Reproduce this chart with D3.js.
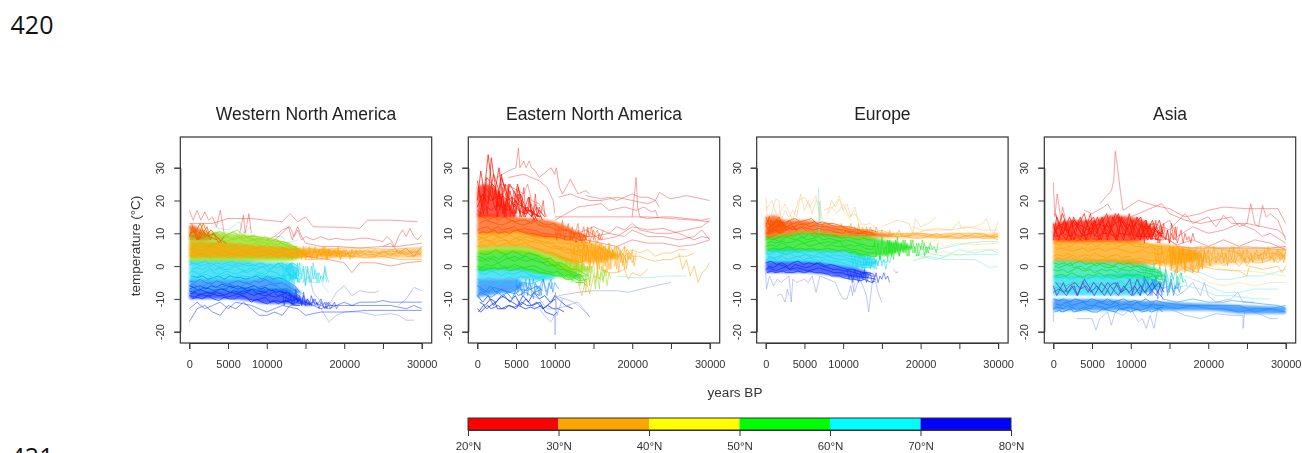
<!DOCTYPE html>
<html><head><meta charset="utf-8">
<script src="https://cdn.jsdelivr.net/npm/d3@7"></script>
<style>
html,body{margin:0;padding:0;background:#fff;overflow:hidden;width:1302px;height:453px}
svg{display:block}
#plots{filter:blur(.4px)}
.soft{filter:blur(1.3px)}
</style></head><body>
<svg id="c" width="1302" height="453"></svg>
<script>
// ---------- shared ----------
const panelTitles=["Western North America","Eastern North America","Europe","Asia"];
const xTicks=[0,5000,10000,15000,20000,25000,30000];
const xLabels=[0,5000,10000,20000,30000];
const yTicks=[-20,-10,0,10,20,30];
const legendBreaks=[20,30,40,50,60,70,80];
const legendColors=["#ff0000","#ffa500","#ffff00","#00ff00","#00ffff","#0000ff"];
const bandColor={red:"#ff1400",redOrange:"#ff5200",orange:"#ffa000",yellow:"#e8d800",lime:"#8edc10",green:"#12e012",teal:"#12e0a8",cyan:"#14d8f0",azure:"#0f80ff",blue:"#0a2cff",purple:"#5a30d8",paleRed:"#f04545",paleBlue:"#7a90f0",paleOrange:"#f8c070",paleCyan:"#70e8d8",paleYellow:"#e8e070"};
const gridA=[0,700,1400,2100,2800,3500,4200,4900,5600,6300,7000,7700,8400,9100,9800,10500,11200,11900,12600,13300,14000];
const gridB=[300,1000,1700,2400,3100,3800,4500,5200,5900,6600,7300,8000,8700,9400,10100,10800,11500,12200,12900,13600,14300];
const gridC=[0,450,1300,1800,2700,3100,4000,4800,5300,6200,6900,7400,8300,8800,9900,10300,11300,11800,12800,13200,14200];
const gridD=[150,800,1200,2300,2600,3600,4100,5000,5700,6400,7100,8100,8500,9600,10000,10900,11400,12300,12700,13700,14100];
const grids=[gridA,gridC,gridB,gridD];
const spikeStep=250; // spike rows below: first number is the start age, then one reading per spikeStep years

// ---------- Western North America ----------
const wnaBlueBand=[[0,-10,-7.5],[2500,-10,-7.5],[5000,-10,-7.5],[7500,-10.5,-7],[10000,-11.5,-7],[12500,-11.5,-7],[14000,-11.5,-9],[15000,-12,-10.5],[16000,-12,-11.5]];
const wnaAzureBand=[[0,-8,-4],[2500,-8,-4],[5000,-8,-4],[7500,-8,-4],[10000,-8,-3.5],[12500,-8,-4.5],[13500,-8,-6],[14500,-8.8,-8.2]];
const wnaCyanBand=[[0,-4.5,1.8],[5000,-4.5,1.8],[10000,-4,1.2],[12500,-5,1],[13500,-4,0.5],[14200,-2,-1]];
const wnaGreenBand=[[0,1.5,10.5],[2500,1.5,10.5],[5000,1.5,10],[7500,1.5,9.5],[10000,1.5,8.5],[12500,1.5,7],[14500,2.5,5],[15500,3.5,4]];
const wnaOrangeBand=[[0,2.5,7.5],[5000,2.5,7],[10000,2.5,6],[15000,2.5,5.5],[18000,3,5],[20000,3.5,4.5]];
const wnaOrangeTail=[[17000,2.5,5.5],[20000,2.5,5],[25000,2.5,5],[30000,2.5,5.5]];
const wnaRedBand=[[0,8,12.5],[1000,8,12],[2000,8,10],[2500,8,9]];
const wnaBlueDense=[
[-9,-9.5,-8.5,-9,-9,-8,-8.5,-9.5,-9,-8.5,-9,-10,-10.5,-10,-9.5,-11,-10.5,-11,-10.5,-11.5,-11],
[-7.5,-8,-7,-7.5,-8.5,-8,-7,-7.5,-8,-8.5,-7.5,-8,-9,-8.5,-8,-9,-9.5,-9,-10,-10.5,-10],
[-10,-9.5,-10,-9,-10,-10.5,-9.5,-10,-10,-9,-9.5,-11,-10,-11,-11.5,-10.5,-11.5,-10.5,-11,-12,-12],
[-8.5,-8,-9,-8,-8,-9,-9,-8.5,-7.5,-8,-8.5,-7,-8,-9,-9,-8,-9,-8.5,-8,-9.5,-11],
[-6,-6.5,-6,-7,-6,-6.5,-5.5,-6,-6.5,-6,-7,-6.5,-6,-7,-6.5,-7.5,-7,-8,-8,-9.5,-10],
[-7,-6.5,-7.5,-6.5,-7,-7.5,-7,-7,-6,-7,-6.5,-7.5,-7,-7.5,-8,-7,-8,-7.5,-9,-9,-10.5]];
const wnaAzureDense=[
[-4.5,-5,-4,-5,-5.5,-4.5,-5,-5.5,-5,-4.5,-5,-5.5,-4.5,-5,-4,-5,-5.5,-5,-6,-7,-8],
[-6,-5.5,-6.5,-6,-5,-6,-6.5,-6,-5.5,-6.5,-6,-5,-6,-6.5,-6,-5.5,-6,-7,-7,-8,-9],
[-3,-3.5,-3,-4,-3.5,-3,-4,-3,-3.5,-3.5,-4,-3.5,-3,-4,-3,-4,-3.5,-4,-5,-6,-8],
[-7,-7.5,-7,-6.5,-7,-7.5,-7,-6.5,-7,-7,-6.5,-7,-7.5,-7,-7.5,-7,-7.5,-7,-8,-8.5,-9]];
const wnaCyanDense=[
[0.5,1,0,0.5,1,0,-0.5,0.5,0,1,0.5,0,0.5,-0.5,0,0.5,-0.5,0,-1,0,-1],
[-2,-1.5,-2.5,-2,-1,-2,-2.5,-1.5,-2,-2.5,-1.5,-2,-1,-2,-2.5,-1.5,-2,-3,-2.5,-3,-4],
[-1,-0.5,-1,0,-1.5,-0.5,-1,-1,0,-1,-1.5,-0.5,-1,0,-1.5,-0.5,1,-1,-2,-4,-2],
[-3,-3.5,-3,-2.5,-3,-4,-3,-2.5,-3.5,-3,-3,-3.5,-2.5,-3,-3.5,-3,-4,-3,-5,-2,-5],
[1.5,0.5,1,1.5,0,1,0.5,1,1.5,0,0.5,1,0,1,0.5,-1,0.5,1,0,1,0]];
const wnaGreenDense=[
[10,9.5,10.5,9,9.5,10,9,9.5,10.5,9.5,8.5,9,9.5,8,9,8,7.5,7.5,7,6,5.5],
[8,8.5,7.5,8,9,8,8.5,7.5,8,9,8,7.5,8,7.5,7,7,6.5,7,6,5.5,5],
[6,6.5,7,6,6.5,7.5,7,6,6.5,7,6,6.5,7,6,6.5,5.5,6,5.5,5,5.5,4],
[3,2.5,3.5,3,2.5,3,3.5,2.5,3,3.5,3,2.5,3,3.5,2.5,3,2.5,3.5,2.5,3,2.5],
[9,8.5,9.5,8.5,8,9,8.5,9,8,8.5,9.5,8.5,8,8.5,8,7.5,8,7,6.5,6,6],
[11,10,10.5,11,9.5,10,10.5,9.5,10,11,9.5,9,9,9,8.5,8.5,8,7.5,7,6.5,5]];
const wnaOrangeDense=[
[5,5.5,4.5,5,6,5.5,5,4.5,5,5.5,4.5,5,5.5,5,4.5,5,4,4.5,5,4,4.5],
[3.5,3,4,3.5,3,4,3.5,3,4,3.5,3,4,3.5,3,3.5,4,3,3.5,3,4,3],
[7,6.5,7.5,6,7,6.5,6,7,6.5,6,6.5,6,5.5,6,5.5,6,5,5.5,5,5,5.5],
[4,4.5,3.5,4,5,4,4.5,4,3.5,4.5,4,4.5,4,4.5,4,3.5,4.5,4,3.5,2.5,3.5]];
const wnaRedDense=[
[12,10,13,9,11,9,7],[9,12,10,13,8,10,8,7],[13,8,11,9,10,7,9],[10,11,8,12,9,8]];
const wnaCyanSpikes=[
[12000,1,-5,0,-3,1,-6,-1,-4,1,-5,-2,0,-6,-1,-5,0,-4,-1,-5,-2,-4,-5,0,-3,-5],
[12500,-2,0,-4,1,-6,-2,-5,1,-4,-1,-6,0,-3,-5,1,-4,-2,-5,-3,-4,-1,-5]];
const wnaBlueSpikes=[
[12000,-7,-12,-9,-11,-8,-12,-10,-7,-11,-9,-12,-8,-11,-10,-12,-9,-11,-10,-12,-11,-10,-12,-11,-13,-11,-12,-12,-11,-13,-12],
[13000,-9,-11,-12,-8,-11,-10,-12,-9,-12,-10,-11,-12,-10,-12,-11,-13,-11,-12,-13,-11,-12,-13,-12]];
const wnaOrangeSpikes=[
[13000,5,2,4,6,3,5,2,6,3,4,5,2,4,6,3,5,3,4,6,2,5,3,4,5,3,6,2,4,5,3,4,2,5,3,5,4,3],
[14500,3,5,2,4,6,3,4,5,2,5,3,6,4,2,5,3,4,5,3,5,2,4,3,5,4,3,5]];
const wnaOrangeLong=[
[14000,5,15000,3.5,16000,5,17000,3.5,18000,5,19000,4,20000,3,21000,5,22000,3,23000,4,24000,5,25000,3,26000,4,27000,3,28000,5,29000,4,30000,5],
[14000,3,15000,5,16000,2,17000,4,18000,3,19000,5,20000,4,21000,3,22000,5,23000,3,24000,3,25000,5,26000,3,27000,5,28000,3,29000,3,30000,4],
[15000,4,16000,4,17000,5,18000,4,19000,3,20000,5,21000,2.5,22000,4,23000,5,24000,3,25000,4,26000,5,27000,4,28000,4,29000,5,30000,3],
[15000,5.5,17000,5,20000,5.5,23000,5.5,26000,5,28000,5.5,30000,5.5],
[15000,2,17000,2,19000,3,21000,3,23000,2.5,25000,3,27000,2,29000,2,30000,2],
[20000,4,21000,4,22000,4,23000,3.5,24000,3.5,25000,4.5,26000,3.5,27000,4,28000,3.5,29000,4.5,30000,3.5],
[20000,3.5,21500,4.5,23000,4.5,24500,4,26000,4.5,27500,4.5,29000,3,30000,4.5]];
const wnaRedLines=[
[0,13,1500,13,3000,13,5000,14.5,8000,14.5,12000,13.5,13000,16,14000,13.5,15000,15,16000,12,20000,11.8,22000,11.5,23000,14,26000,14,29500,13.5],
[0,17,500,14,1000,17,1500,14,2000,16.5,2500,14,3000,15,3500,12,4000,17,4500,10],
[6500,10,7000,15.5,7200,10,7700,16,8000,10],
[10000,8,11000,9,12000,11,13000,12,13500,9,14000,11,14500,8,15000,9,16000,8,17000,9,18000,8,19000,8.5,20000,8,21000,8,22000,8.5,23000,8.5,24000,8,25000,7.5,25500,9,26000,8,26500,6,27000,9,27500,11,28000,9,28500,11.5,29000,9,29500,8,30000,9.5],
[11000,8,12000,10,12800,12,13300,8,14000,12,14500,9,15000,7,17000,6,19000,6,22000,5.5,25000,6,27000,6,30000,7],
[15000,3,18000,2,19000,1.5,20000,1,21000,-2,22000,1,24000,1,26000,0,28000,1,30000,1.5],
[25000,6,26000,7,27000,4,28000,5.5,29000,3,30000,6]];
const wnaBlueLines=[
[0,-17,1000,-13,2000,-12,3000,-14,4000,-15,5000,-12,6000,-13,7000,-11,8000,-13,9000,-15,10000,-15,11000,-14,12000,-15,13000,-12],
[0,-13,1000,-11,2000,-13,3000,-12,4000,-11,5000,-13,6000,-11,8000,-12,10000,-14,12000,-12,14000,-13,15000,-15,17000,-14,20000,-14,23000,-13.5,27000,-13.5,30000,-13.5],
[12000,-11,14000,-10,15000,-12,16000,-11,17000,-12,18000,-13,19000,-12,20000,-11,21000,-12,22000,-11,23000,-11,24000,-11,25000,-10.5,26000,-11,27000,-11,28000,-11,29000,-11,30000,-11],
[13000,-12,15000,-11,17000,-13,18000,-12,20000,-12,22000,-12,24000,-12,26000,-12,28000,-13,29000,-12,30000,-13]];
const wnaPaleBlueLines=[
[14500,-5,15500,-3,16000,-8,17000,-11,18000,-12,19000,-8,20000,-6,21000,-9,22000,-7.5,23000,-8,24000,-8,24500,-7.5],
[17000,-13,18000,-17,19000,-15,20000,-14,22000,-14,24000,-15,26000,-14.5,27000,-15,28000,-16.5,29000,-16.5],
[27000,-12,28000,-10,29000,-6.5,30000,-7.5]];
const wnaPaleCyanLines=[
[14500,1,14800,-5,15000,0,15200,-4],[15000,-3,16000,-5,17000,-5,18000,-8],[3000,12,5000,11,6500,13.5,7000,10,8000,12],[11000,9,12000,9,12500,7,14000,8]];

// ---------- Eastern North America ----------
const enaRedBand=[[0,15,24],[1000,15,25],[2000,15,24.5],[3000,15,22],[4000,15,19],[5000,15,16.5]];
const enaRedOrangeBand=[[0,10,16],[2500,10,15.5],[5000,10.5,15],[7500,9,14.5],[10000,8.5,13.5],[12500,8,11],[14000,8,9]];
const enaOrangeBand=[[0,5.5,10.5],[2500,6,10.5],[5000,6,11],[7500,5,10],[10000,3,9],[12500,1,8],[15000,1,7],[17000,2,5],[18500,3,3.5]];
const enaLimeBand=[[0,3.5,6],[5000,4,6.5],[7500,3,5.5],[10000,0,4],[12500,-2,1.5],[14500,-1.5,-0.5]];
const enaGreenBand=[[0,-1.5,4.5],[2500,-1,5],[5000,-1,5],[7500,-2,4],[10000,-3,1.5],[12500,-4,-1.5],[13500,-4,-3]];
const enaCyanBand=[[0,-4,-0.5],[2500,-4,-0.5],[5000,-4,-0.5],[7500,-4.5,-1.5],[10000,-4,-3]];
const enaAzureBand=[[0,-9.5,-4],[2500,-8.5,-4],[5000,-7.5,-4],[6000,-6,-5]];
const enaBlueDense=[
[-9,-11,-9,-12,-10,-9,-11,-9,-12,-10,-12,-11,-13,-12,-13,-13,-14],
[-13,-14,-12,-13,-12,-13,-12,-12.5,-12,-13,-12.5,-13,-12,-14,-15,-14],
[-11,-12,-10,-11,-9,-10,-11,-12,-9,-11,-8,-10,-9,-11,-10],
[-14,-12,-13,-11,-13,-13,-12,-13,-11,-12,-12,-11,-13,-11,-9,-11,-12,-13]];
const enaAzureDense=[
[-6,-7,-8,-6.5,-7,-7.5,-8,-8.5,-7,-7.5,-7,-6,-7.5],
[-9,-8,-9,-9.5,-8,-9,-8,-7.5,-9,-8,-9,-8,-7],
[-7,-8,-6,-8,-7,-8,-10,-6,-8,-6.5,-8,-9]];
const enaCyanDense=[
[-4,-4.5,-3.5,-4,-5,-4,-3.5,-4,-3,-3.5,-3,-4,-3],
[-6,-5.5,-5,-6,-5.5,-5,-6,-5.5,-5,-5,-5.5,-5,-4,-3.5],
[-2,-2.5,-1.5,-2,-3,-2,-2.5,-2,-1.5,-2.5,-3,-3.5,-3]];
const enaGreenDense=[
[2,1.5,2.5,2,1,2,2.5,3,2,1.5,2,1.5,1,1.5,0,0.5,-1,-1.5,-2,-3,-3],
[0,-0.5,0.5,0,1,0,-0.5,0.5,0,-0.5,0,0,-1,-1.5,-2,-1.5,-3,-2.5,-4,-4.5,-4],
[4,3.5,4,5,4,3.5,4.5,4,3,4,3.5,3,2,2.5,1,1,0,-1,-1,-2,-3],
[-1,-1.5,-1,-0.5,-1,-0.5,-1.5,-1,-0.5,-1,-1,-2,-2,-2.5,-3,-3,-4,-4,-5,-5,-6],
[3,2.5,1.5,3,2,3.5,2,1.5,2.5,3,2,2.5,1,0,0.5,-1,-1,-2,-3,-2.5,-5]];
const enaOrangeDense=[
[8,8.5,7.5,8,9,8,7.5,8.5,9,8,7.5,8,7,7.5,6,6,5,5,4,5,3],
[6,6.5,6,7,6,6.5,7,6,6.5,7,6,5.5,5,4,4,3,2.5,2,1.5,1,2],
[10,9.5,10,9,10,9.5,10,10.5,9.5,10,9,9,8.5,8,8,7,7,6.5,6,6.5,6],
[7,7.5,8,7,7.5,8,7,7.5,8,7,7.5,7,6.5,5.5,5.5,5,4,4,3.5,3,4],
[9,8.5,9,10,8.5,9,9.5,8.5,8,9,8.5,8,7.5,7,7,5,6,5,5,4,7]];
const enaRedOrangeDense=[
[16,15,14,15,14,15,14,13.5,14,14,13,14,13,12.5,13,12,11,11,10,10,9],
[11,11.5,12,11,12,11,11.5,12,11,11.5,11,11,10,10,9.5,10,9,9,8.5,8,8],
[13,14,13.5,13,12.5,13,14,13,12.5,13,14,12.5,12,12,11,11,11,10,10,9.5,9],
[10,10.5,10,11,10,10.5,10,11,10.5,10,10,9.5,9,9,9,8.5,8,8,7.5,8,7]];
const enaRedDense=[
[26,18,34,20,30,17,25,22,19,17,15,18,14],
[20,29,16,33,18,27,21,18,24,15,19,16],
[15,24,22,17,28,20,16,25,16,21,14,17,15],
[23,16,27,24,15,25,18,20,15,18,16,15],
[18,22,19,28,23,15,23,16,22,17,17,14],
[17,16,18,17,19,18,17,19,17,16,17,16,15],
[21,22,20,21,22,20,21,19,18,17,16,15]];
const enaRedSpikes=[
[2500,15,23,17,24,16,21,25,15,20,23,16,22,15,19,24,16,18,21,15,17,22,15,18,16,20,15],
[3000,22,16,19,15,24,17,21,15,18,22,16,20,15,18,16,21,15,17,19,15]];
const enaRedOrangeSpikes=[
[10000,13,8,12,9,14,8,11,13,8,12,9,11,13,8,10,12,8,11,9,12,8,10,11,8,9,11],
[12000,11,8,10,7,11,9,7,10,8,12,7,9,11,8,7,10,8,9]];
const enaOrangeSpikes=[
[12000,8,1,6,-1,7,3,0,8,2,6,-2,7,1,5,-1,7,3,-2,6,1,7,-1,5,2,6,-2,4,1,6,-1,3,2,5,0,4],
[13500,0,7,2,6,-1,5,3,7,-2,4,1,6,0,5,-1,4,2,6,-1,3,5,0,3,1,4,2],
[15000,6,2,5,-1,7,1,4,-2,6,2,5,0,3,6,1,4,-1,5,2,4,1,3]];
const enaLimeSpikes=[
[11000,0,-4,2,-3,1,-5,0,-2,2,-5,-1,1,-4,0,-6,-1,1,-5,-2,-7,0,-4,-1,-6,-2,-4],
[13000,-1,-6,0,-4,-8,-2,-5,0,-3,-7,-1,-4,-2,-5,-1,-3]];
const enaAzureSpikes=[
[5000,-4,-8,-5,-9,-6,-4,-9,-5,-7,-4,-8,-6,-9,-5,-4,-7,-9,-6,-4,-8,-5,-6,-7],
[6000,-9,-5,-7,-4,-8,-10,-5,-7,-6,-9,-4,-6,-8,-5,-7,-5]];
const enaOrangeLong=[
[14000,6,15000,3,16000,7,17000,4,18000,6,19000,3,20000,5,21000,4,22000,5,23000,3,24000,4,25000,4,26000,5,27000,5],
[15000,8,16000,5,17000,7,18000,2,19000,6,20000,3,21000,3,22000,2,23000,1.5,24000,2,25000,2,26000,3,27000,3,28000,4],
[16000,-1,17000,-2,18000,-2,19000,-1,19500,-4,20000,-2,21000,-3,22000,-1],
[26000,4,26500,-1,27000,2,27500,-3,28000,0,28500,-5,29000,-2,29500,-1,30000,1],
[13000,-5,13500,-9,14000,-4,14500,-8.5,15000,-3,16000,-4]];
const enaRedLines=[
[2500,27,4000,29,5000,30,5300,36,5500,30,6000,32,6300,30,6700,32,7000,30,7500,29,8000,27,9000,29,9500,30,10000,28,10200,30,10600,24,11000,22,11500,24,12000,26.5,13000,22,14000,23,14500,22],
[14000,21.5,15000,21,16000,20.5,17000,21,18000,20,19000,21,20000,22,21000,21,22000,21,23000,20,23500,22.5,24500,21,25000,20.5,26000,21,27000,21.5,28000,21,29000,20.5,30000,20],
[10500,21,12000,22,13000,21,14500,20,16000,20,18000,21,20000,20,22000,19,23000,20,23500,18],
[20000,15,20500,27,20700,18,21000,15,22000,14.5,24000,15,25000,15,27000,14.5,29000,14,30000,14.5],
[10000,15,12000,15,15000,15,18000,15,20000,15,22000,15,25000,14.5,28000,14,30000,13.5],
[10000,14,13000,18,16000,19,17000,17,19000,18,20500,17,21500,18,22500,16.5,23000,17,23300,15],
[3000,25,4500,24,6000,22,6500,25,7000,20,8000,19,9000,15],
[4000,27,6000,28,8000,26,9000,24,9800,20,10000,16],
[13000,10,15000,12,16000,11,17000,10,18000,12,19000,11,20000,13,21000,11,23000,10,25000,10,27000,11,29000,12,30000,14],
[13000,9,15000,9,17000,10,19000,9,20000,11,22000,9,24000,9,26000,8,28000,9,29000,11,30000,8],
[14000,8,16000,7,18000,6,20000,8,22000,7,24000,7,26000,6,28000,6.5,30000,8],
[14000,11,16000,8,18000,9,20000,12,22000,11,24000,11.5,26000,10,27000,9,28000,8,29000,9,30000,8.5]];
const enaPaleBlueLines=[
[10500,-9,13000,-8,15000,-7.5,18000,-7.5,19500,-8,22000,-6.5,25000,-5],
[7000,-12,8000,-13,9000,-16,9500,-17,10000,-15,10050,-21,10100,-8,10300,-15,11000,-10],
[9000,-12,10000,-9,12500,-11,14000,-14,14500,-15.5,13000,-11,11500,-12],
[7000,-9,8000,-10,9000,-13,10000,-13,12000,-12]];
const enaPaleCyanLines=[[18000,-3,20000,-3.5,22000,-3.5,25000,-3,27000,-3]];

// ---------- Europe ----------
const eurBlueBand=[[0,-2,1.5],[2500,-2,1.5],[5000,-2,1.5],[7500,-2.5,1],[10000,-3.5,0],[12500,-4,-1.2],[13300,-3.2,-2]];
const eurCyanBand=[[0,1.2,5],[2500,1.2,5.5],[5000,1.2,5],[7500,0.8,5],[10000,-0.2,5],[12500,-0.5,3.5],[14500,0.8,1.5]];
const eurGreenBand=[[0,4.5,9],[2500,4.5,9.5],[5000,4.5,10.5],[7500,4.5,10],[10000,4.5,9.5],[12500,3,9.5],[15000,3,8],[17500,4.5,7],[19000,5.5,6]];
const eurOrangeBand=[[0,8.5,14],[2500,9,14],[5000,10,14],[7500,9.5,13],[10000,9,12],[12500,9,11],[15000,9,10],[16500,9.3,9.7]];
const eurOrangeTail=[[14000,8.5,10],[20000,8.5,9.8],[25000,8.5,9.8],[30000,8.5,10]];
const eurRedBand=[[0,9,15],[1000,9.5,15.5],[2000,10,14.5],[2500,11,13]];
const eurBlueDense=[
[1,1.5,0.5,1,0,1,1.5,0.5,1,0.5,1,0,0.5,0,-0.5,-1,-1,-1.5,-2,-2,-2.5],
[-1,-0.5,-1.5,-1,0,-1,-0.5,-1,-1.5,-1,-0.5,-1,-1.5,-2,-2,-2.5,-3,-3,-3.5,-3.5,-4],
[0,-0.5,0.5,0,-1,0.5,0,-0.5,0,1,0,-0.5,-1,-1,-1.5,-1.5,-2,-2.5,-2,-3,-3],
[-2,-1.5,-2,-1.5,-2,-2,-1.5,-2,-1.5,-2,-2,-2.5,-3,-3,-3.5,-4,-4,-4.5,-4,-5,-4.5]];
const eurCyanDense=[
[2,2.5,2,3,2,2.5,3,2,2.5,2,1.5,2,1.5,1.5,1,0.5,0,0,-0.5,-0.5,0],
[4,3.5,4.5,4,3.5,4,4.5,4,3.5,3,4,3.5,3,3.5,3,2.5,2,1.5,1,1,1],
[3,2.5,3,3.5,4,3,3,3.5,2.5,3,2.5,3,2.5,2,2,1.5,1,0.5,0.5,0,2],
[5,4.5,5,4,5,5.5,4,5,4.5,5,4,4.5,4,4.5,3.5,3,3,2.5,2,2.5,2]];
const eurGreenDense=[
[6,6.5,6,7,6,5.5,6.5,7,6,6.5,7,6,6.5,6,6,5.5,5,5,4.5,4,4],
[8,8.5,8,7.5,9,8.5,8,9,8,8.5,9,8,8.5,8,7.5,8,7.5,7,6.5,6,6],
[5,5.5,5,5.5,6,5,5.5,5,5.5,5,5,5.5,5,4.5,5,4,4.5,3.5,3.5,3,3],
[7,7.5,7,7.5,7,7.5,8,7,7.5,8,7,7.5,7,7.5,6,6.5,6,6.5,5.5,5,7],
[9,8,8.5,9,9.5,9,10,8.5,10,9,10,9,9.5,9,8.5,9,8.5,8,8.5,8,8]];
const eurLimeDense=[
[9,9.5,10,9,9.5,10,10.5,11,10,10.5,10,11,9.5,10,9.5,9.5,9,9,9,8.5,8],
[8.5,8,9,9.5,10,9,10,10.5,10,11,10.5,10,10,10,9,9,8.5,9,8,9,8]];
const eurOrangeDense=[
[13,12.5,13.5,13,12,13,13.5,12.5,13,13.5,12.5,13,12.5,12,12,11.5,11,11,10.5,10.5,10],
[10,10.5,11,10,11,11.5,11,12,11.5,11,11.5,11,11,10.5,10,10.5,10,10,10,9.5,9.5],
[14,13.5,14,13,14,14.5,13.5,14,14.5,13,13.5,13,13,12.5,12,12,11.5,11,11,11,10.5],
[12,11.5,12,12.5,12,12,12.5,13,12,12.5,12,12,11.5,11,11,10.5,10.5,10,10.5,10,9.5]];
const eurRedDense=[
[15,12,14,11,12,11,13],[12,15,11,14,11,13,11],[10,13,15,12,14,11,12,11],[14,11,12,13,11,12,11]];
const eurGreenSpikes=[
[14000,8,3,7,2,9,4,6,2,8,3,7,4,9,3,6,8,4,7,3,8,4,6,3,7,5,8,3,6,4,7,5,6,4,7],
[15500,3,8,4,7,2,8,5,3,7,4,8,3,6,5,8,4,7,3,6,5,7,4,6,5]];
const eurCyanSpikes=[
[11000,4,0,3,-1,4,1,-1,3,0,4,-1,2,3,-1,1,3,0,2,-1,2,1,3],
[12500,3,-1,2,0,3,1,-1,2,0,3,1,2,1,2]];
const eurBlueSpikes=[
[10500,-1,-4,-2,-5,-1,-3,-5,-2,-4,-1,-5,-3,-2,-5,-4,-2,-5,-3,-4,-2,-4,-3,-5]];
const eurOrangeSpikes=[
[12500,11,9,12,9,10,11,9,12,10,9,11,9,10,9,11,9,10,9,10,11,9,10,9,10,9,10],
[9000,12,10,9,13,10,12,9,11,13,9,12,10,13,9,12,10,11,9,12,10]];
const eurOrangeLong=[
[14000,10,15000,11,16000,10,17000,10,18000,9,19000,10,20000,9.5,21000,9,22000,10,23000,9,24000,9.5,25000,10,26000,9,27000,10,28000,9.5,29000,9,30000,10],
[15000,9,17000,9,18000,9,19000,8.5,20000,8.5,21000,9,22000,8.5,23000,9,24000,9,25000,8.5,26000,9.5,27000,9,28000,8.5,29000,8.5,30000,9],
[16000,9.5,18000,10,20000,10,22000,9.5,24000,10,26000,10,28000,10,30000,8],
[18000,9,20000,10,22000,9,24000,8.5,26000,8.5,28000,9,30000,9]];
const eurRedLines=[
[0,21,300,12,1000,18,1300,20.5,1700,20,2000,14,2500,17,3000,15,3500,17,4000,15,4500,22,5000,17,5500,20,6000,16,6500,20,7000,19,7300,14],
[0,17,800,20,1500,15,2500,19,3500,14,4200,20,5000,21,5700,18,6500,21.5,7000,15],
[8000,16,8500,20,9000,18,9500,20.5,10000,17,10500,19,11000,15,11500,18,12000,13],
[7500,17,8500,18,9200,16,10000,19,10800,15,11500,16,12500,12.5,13500,13,14500,11],
[15000,12,17000,14,18500,13,19000,10,19300,14.5,20000,12,21000,13,22000,15],
[19000,10,22000,11.5,24000,11,24500,12.5,25000,13.5,25200,11.5,27000,12,28000,13,28500,14.5,29000,11,29500,10,30000,13.5],
[19000,12,20000,11,22000,11,24000,11,26000,12,28000,11,30000,11]];
const eurYellowLines=[
[8000,16,9000,19,9500,21.5,10000,17,11000,14],
[20000,8,21000,7,22000,8,23000,6,25000,7,27000,6.5,30000,7],
[19000,2,21000,3,23000,4.5,25000,3,27000,5,30000,5]];
const eurPaleCyanLines=[
[20000,6,22000,5,24000,6,26000,7,28000,7.5,30000,7.5],
[19000,1.5,21000,3,23000,2,25000,2,27000,2,29000,-0.5,30000,0],
[20000,3,22000,2,24000,3.5,26000,3.5,28000,3.5,30000,3.5],
[19000,3,21000,4,23000,3,25000,5,27000,4,29000,5,30000,4],
[6800,24,6900,10,7000,20,7050,12]];
const eurPaleBlueLines=[
[0,-2,100,-7,500,-3,1000,-6,1500,-4,2000,-5,3000,-3,3300,-11,3500,-4,4000,-5,5000,-4,5500,-5,6000,-3,6500,-8,7000,-3,8000,-4,9000,-5,9500,-8,10000,-10,10500,-10,11000,-6,11200,-9,11500,-5],
[1500,-9,2000,-8.5,2500,-11,2800,-7,3000,-9],
[12000,-3,12700,-7,13000,-9,13300,-14,13700,-6,14000,-3,14500,-8,15000,-11],
[11000,-4,11500,-8,12000,-4],[16500,-1,16800,-2,17000,-2,17000,-1.5]];

// ---------- Asia ----------
const asiBlueBand=[[0,-13.5,-10],[5000,-13.5,-10],[10000,-13.5,-10.5],[15000,-13.5,-11],[20000,-13.5,-11.5],[25000,-14.5,-12],[30000,-14.5,-12.5]];
const asiCyanBand=[[0,-9,-3],[5000,-9,-3],[10000,-9,-2],[12500,-8,-3.5],[14000,-6,-5]];
const asiGreenBand=[[0,-3.5,2],[5000,-3.5,2],[10000,-3.5,2],[12500,-4,0],[14500,-3.5,-2.5]];
const asiOrangeBand=[[0,1.5,8],[2500,1.5,8.5],[5000,1,8.5],[7500,1,8],[10000,0.5,8],[12500,0.5,7],[15000,0.5,6.5],[17000,1,5.5],[19000,2.5,4]];
const asiOrangeTail=[[15000,-1,6],[18000,-1.5,5.5],[20000,0,5.5],[25000,1,5.5],[30000,2,5.5]];
const asiRedBand=[[0,7.5,13],[2500,7.5,14],[5000,7.5,14],[7500,7.5,15.5],[10000,7.5,15],[12000,8,13.5],[13000,9,11]];
const asiBlueDense=[
[-10,-10.5,-10,-11,-10,-10.5,-11,-10,-10.5,-11,-10,-11,-10.5,-10,-11,-10.5,-11,-10,-11,-10.5,-11],
[-13,-12.5,-13,-12,-13,-13.5,-12.5,-13,-12,-12.5,-13,-12.5,-12,-13,-12.5,-13,-13.5,-13,-12,-13,-12.5],
[-11.5,-12,-11,-12,-11.5,-11,-12,-12,-11,-11.5,-12,-11,-12,-11.5,-12,-11,-12,-12,-11.5,-12,-12],
[-14,-13.5,-14,-13,-14,-13.5,-13,-14,-14,-13,-13.5,-14,-13,-13.5,-14,-13,-14,-13.5,-14,-13,-14]];
const asiPurpleDense=[
[-8,-7,-8,-6,-5,-7,-6,-8,-6,-8,-5,-7,-9,-6,-8,-6,-9,-4,-7,-9,-5],
[-6,-9,-5,-8,-6,-9,-4,-7,-9,-5,-7,-9,-5,-8,-4,-9,-6,-8,-5,-7,-10],
[-5,-7,-9,-6,-9,-5,-8,-5,-7,-9,-6,-5,-8,-7,-9,-4,-7,-9,-7,-5,-8]];
const asiTealDense=[
[-3,-3.5,-3,-4,-3.5,-3,-4,-3.5,-3,-4,-3,-4,-3.5,-3,-4,-3,-4,-3.5,-4,-4.5,-5],
[-7,-6.5,-7,-8,-7,-6,-7,-7.5,-7,-6.5,-8,-7,-6,-7,-6.5,-7,-7.5,-8,-7,-6,-6.5],
[-5,-5.5,-6,-5,-5.5,-4.5,-6,-5,-5.5,-6,-5,-5.5,-4.5,-6,-5,-5.5,-6,-5,-6,-5.5,-6]];
const asiGreenDense=[
[1,0.5,1,0,1,1.5,0.5,1,0,1,0.5,0,1,0.5,1,0,0,-0.5,-1,-1,-2],
[-1,-1.5,-1,-2,-1,-0.5,-1.5,-1,-2,-1,-1.5,-1,-2,-1,-1.5,-1,-2,-2,-2.5,-3,-3],
[-3,-2.5,-3,-2,-3,-3.5,-2.5,-3,-2,-3,-2.5,-3,-3.5,-2.5,-3,-2.5,-3,-3.5,-3,-4,-4],
[0,-0.5,0,1,-0.5,0,-1,0,1,0,-0.5,0,-1,0,-0.5,0,-1,-1.5,-1.5,-2,-3]];
const asiOrangeDense=[
[7,6.5,7,6,7,7.5,6.5,7,6,7,6.5,7,6,6.5,7,6,6,5.5,6,5,5.5],
[3,3.5,3,4,3,2.5,3.5,3,4,3,2.5,3,3.5,2.5,3,2,2.5,2,1.5,2,1],
[5,5.5,5,4.5,5,5.5,4.5,5,5.5,4.5,5,5.5,5,4.5,4,4.5,5,4,4,3.5,4],
[2,2.5,2,3,2,1.5,2.5,2,1.5,2,1.5,2,1,1.5,1,1,1.5,1,0.5,1,0],
[8,7.5,8,7,8,8.5,7.5,8,7.5,8,7.5,8,7,7.5,7,7.5,6.5,7,6.5,6,6]];
const asiRedDense=[
[13,8,14,9,11,15,8,13,10,15,9,12,16,9,13,8,12,14,8,12,9],
[9,15,10,13,8,12,16,9,14,8,13,10,8,15,10,14,9,11,13,9,11],
[16,10,8,14,12,9,13,15,8,12,10,16,13,10,8,15,11,8,12,10,8],
[10,13,16,8,15,10,9,11,15,10,14,8,15,11,14,9,13,10,9,14,10],
[12,9,11,15,10,8,14,10,12,14,8,15,11,8,16,10,8,13,11,8,10],
[8,12,13,10,14,13,10,16,9,13,16,11,9,14,9,12,15,9,14,11,9],
[11,12,11,12,13,12,11,12,13,12,12,13,14,13,12,13,12,12,11,10,10],
[9,9.5,10,9,10,9,9.5,10,9,10,10,9,10,9.5,10,9,9,9,8.5,8,8]];
const asiRedSpikes=[
[11000,13,8,12,7,14,9,13,8,11,14,7,12,9,13,8,11,7,13,9,8,12],
[13000,13,8,11,7,12,9,8,11,7,10,8,12,7,9,11,7,10,8,9,7,10,8]];
const asiOrangeSpikes=[
[13000,6,1,5,-1,6,2,-1,4,6,0,5,2,-2,5,1,6,-1,4,1,5,-2,3,6,0,4,-1,5],
[15000,5,-1,6,1,-2,4,0,5,-2,3,6,-1,2,5,1,-2,4,0,5,1,3,0],
[19000,6,1,4,2,5,0,3,6,1,4,2,5,1,4,0,5,2,6,1,3,4,2,5,1,5,2,4,1,3,5,2,4,1,5,3,6,2,4,1,3,5,2,4,1,5]];
const asiTealSpikes=[
[11500,1,-4,0,-5,-1,-3,1,-6,-2,0,-4,-5,-1,-3,-6,-2,-4,-1,-5,-3,-2,-5,-4,-6],
[13500,-2,-6,-3,-7,-1,-5,-8,-2,-4,-7,-3,-6,-2,-5]];
const asiCyanSpikes=[
[11000,-4,-9,-6,-3,-8,-5,-9,-4,-7,-3,-8,-6,-9,-5,-3,-8,-6,-4,-9,-7,-5,-8,-6],
[12500,-6,-9,-4,-7,-10,-5,-8,-6,-4,-9,-7,-5,-8,-6,-7,-5]];
const asiOrangeLong=[
[14000,4,15000,5,16000,2,17000,6,18000,1,19000,5,20000,3,21000,5,22000,2,23000,6,24000,3,25000,5,26000,2,27000,4,28000,5,29000,3,30000,6],
[14000,1,15000,3,16000,6,17000,2,18000,5,19000,0,20000,5,21000,1,22000,4,23000,1,24000,5,25000,0,26000,4,27000,2,28000,3,29000,1,30000,4],
[15000,0,16000,1,17000,-1,18000,-2,19000,3,20000,1,21000,3,22000,0,23000,2,24000,0,25000,3,26000,1,27000,1,28000,2,29000,5,30000,2],
[15000,6,17000,5,19000,6,21000,5.5,23000,5.5,25000,6,27000,5.5,29000,5,30000,5],
[16000,4,18000,3,20000,6,22000,5,24000,4,25000,1,26000,3,28000,4,30000,3],
[15000,-1,16000,-2,17000,0,18500,-2,19000,0,21000,-1,24000,-1.5,25000,-3,25300,0,27000,-1,29000,0,29500,-2,30000,0]];
const asiRedLines=[
[0,25.5,200,15,500,22,1000,14,1200,18,1600,14],
[6000,19,7500,23,7800,26,8000,35,8300,30,8600,24,9000,17],
[4000,17,5000,16,6500,18,7000,19,7500,17],
[9000,17,11000,20,13000,18.5,15000,17.5,17000,15,19000,16,20000,17,22000,18,25000,17.5,27000,17.5,29000,17.5,30000,13],
[10000,15,12000,17,14000,19,15000,16,17000,14,19000,13,21000,14,23000,15,24000,12,25000,13,25500,19,26000,13,26500,12,27000,18.5,27500,15,28000,16,29000,14,30000,8],
[13000,13,15000,11,17000,16,18000,13,20000,15,21000,12,22000,15.5,23000,13,25000,13,27000,12,29000,11,30000,9],
[13000,11,15000,14,16000,9,18000,12,20000,10,22000,11,24000,13,26000,11,27000,9,28000,10,30000,7],
[13000,10,15000,8,16000,6,18000,5.5,20000,5.5,24000,5.5,26000,5.5,28000,5.5,30000,6],
[14000,9,16000,6.5,18000,8,20000,6,22000,8,24000,6,26000,8,28000,7,30000,5]];
const asiBlueLong=[
[14000,-10,16000,-11,18000,-10,20000,-11,22000,-11,23000,-10.5,25000,-11,27000,-11.5,29000,-12,30000,-13],
[14000,-12,16000,-13,18000,-12,20000,-13,22000,-13,24000,-14,26000,-13,28000,-13,30000,-14],
[14000,-11,17000,-12,20000,-12,22000,-12,24000,-12,26000,-14,28000,-13,30000,-12]];
const asiPaleBlueLines=[
[3000,-16,5000,-16,5500,-19.5,6000,-16,7000,-14,7500,-18,8000,-14,9000,-15,10000,-13,11000,-17,11500,-16,12000,-19,12500,-15,13000,-19,13500,-13],
[14000,-7,15000,-6,16000,-9,17000,-7.5,18000,-5,19000,-9,19500,-5,20000,-9,21000,-11,23000,-10,23800,-8,24500,-11,26000,-11],
[15000,-13,17000,-15,19000,-16,21000,-14.5,23000,-15,24500,-15,24500,-19,24700,-14,26000,-14,28000,-16,29000,-16],
[0,-17,100,-11,1000,-14,2000,-13]];
const asiPaleCyanLines=[
[17000,-1,19000,-2,21000,-4,23000,-4,25000,-3,27000,-3,30000,-1],
[17000,-3,20000,-6,22000,-8,24000,-8,26000,-7,28000,-7,29000,-7],
[15000,-7,17000,-6,19000,-7,21000,-9,23000,-9,26000,-10,28000,-10]];
const asiPaleYellowLines=[
[18000,-2,20000,-5,22000,-6,24000,-5,26000,-6,28000,-5,30000,-5],
[19000,1,22000,-1,25000,-1.5,27000,-2,30000,-3]];

// ---------- panel assembly ----------
const panels=[
 {boxL:180.3,x0:189.3,
  bands:[["blue",wnaBlueBand],["azure",wnaAzureBand],["cyan",wnaCyanBand],["paleOrange",wnaOrangeTail],["lime",wnaGreenBand],["orange",wnaOrangeBand],["redOrange",wnaRedBand]],
  layers:[
  {b:"blue",dense:wnaBlueDense,spikes:wnaBlueSpikes},
  {b:"paleBlue",long:wnaPaleBlueLines},{b:"blue",long:wnaBlueLines},
  {b:"azure",dense:wnaAzureDense},
  {b:"cyan",dense:wnaCyanDense,spikes:wnaCyanSpikes},{b:"paleCyan",long:wnaPaleCyanLines},
  {b:"paleRed",long:wnaRedLines},
  {b:"lime",dense:wnaGreenDense},
  {b:"orange",dense:wnaOrangeDense,long:wnaOrangeLong,spikes:wnaOrangeSpikes},
  {b:"redOrange",dense:wnaRedDense}]},
 {boxL:468.3,x0:477.3,
  bands:[["azure",enaAzureBand],["cyan",enaCyanBand],["green",enaGreenBand],["lime",enaLimeBand],["orange",enaOrangeBand],["redOrange",enaRedOrangeBand],["red",enaRedBand]],
  layers:[
  {b:"blue",dense:enaBlueDense},{b:"paleBlue",long:enaPaleBlueLines},
  {b:"azure",dense:enaAzureDense,spikes:enaAzureSpikes},
  {b:"cyan",dense:enaCyanDense},{b:"paleCyan",long:enaPaleCyanLines},
  {b:"green",dense:enaGreenDense},{b:"lime",spikes:enaLimeSpikes},
  {b:"paleRed",long:enaRedLines},
  {b:"orange",dense:enaOrangeDense,long:enaOrangeLong,spikes:enaOrangeSpikes},
  {b:"redOrange",dense:enaRedOrangeDense,spikes:enaRedOrangeSpikes},
  {b:"red",dense:enaRedDense,spikes:enaRedSpikes}]},
 {boxL:756.7,x0:765.7,
  bands:[["blue",eurBlueBand],["cyan",eurCyanBand],["paleOrange",eurOrangeTail],["green",eurGreenBand],["redOrange",eurOrangeBand],["redOrange",eurRedBand]],
  layers:[
  {b:"paleBlue",long:eurPaleBlueLines},
  {b:"blue",dense:eurBlueDense,spikes:eurBlueSpikes},
  {b:"cyan",dense:eurCyanDense,spikes:eurCyanSpikes},{b:"paleCyan",long:eurPaleCyanLines},
  {b:"green",dense:eurGreenDense,spikes:eurGreenSpikes},
  {b:"lime",dense:eurLimeDense},{b:"paleYellow",long:eurYellowLines},
  {b:"paleOrange",long:eurRedLines},
  {b:"orange",long:eurOrangeLong,spikes:eurOrangeSpikes},
  {b:"redOrange",dense:eurOrangeDense},
  {b:"redOrange",dense:eurRedDense}]},
 {boxL:1044.3,x0:1053.3,
  bands:[["azure",asiBlueBand],["cyan",asiCyanBand],["teal",asiGreenBand],["paleOrange",asiOrangeTail],["orange",asiOrangeBand],["red",asiRedBand]],
  layers:[
  {b:"paleBlue",long:asiPaleBlueLines},{b:"paleCyan",long:asiPaleCyanLines},{b:"paleYellow",long:asiPaleYellowLines},
  {b:"teal",dense:asiTealDense,spikes:asiTealSpikes},
  {b:"azure",dense:asiBlueDense,long:asiBlueLong,spikes:asiCyanSpikes},
  {b:"green",dense:asiGreenDense},
  {b:"purple",dense:asiPurpleDense},
  {b:"paleRed",long:asiRedLines},
  {b:"orange",dense:asiOrangeDense,long:asiOrangeLong,spikes:asiOrangeSpikes},
  {b:"red",dense:asiRedDense,spikes:asiRedSpikes}]}
];

// ---------- drawing ----------
const svg=d3.select("#c");
const FONT="'Liberation Sans',Arial,sans-serif", INK="#333";
const plotTop=137,plotBottom=343,boxW=251.4,plotW=232.4;
const yScale=d3.scaleLinear().domain([-20,30]).range([331.7,167.7]);
const root=svg.append("g").attr("id","plots");

panels.forEach((p,pi)=>{
  const x=d3.scaleLinear().domain([0,30000]).range([p.x0,p.x0+plotW]);
  const g=root.append("g");
  const clipId="clip"+pi;
  svg.append("clipPath").attr("id",clipId).append("rect").attr("x",p.boxL).attr("y",plotTop).attr("width",boxW).attr("height",plotBottom-plotTop);
  const marks=g.append("g").attr("clip-path",`url(#${clipId})`);
  const area=d3.area().x(d=>x(d[0])).y0(d=>yScale(d[1])).y1(d=>yScale(d[2])).curve(d3.curveMonotoneX);
  const line=d3.line().x(d=>x(d[0])).y(d=>yScale(d[1]));
  const soft=marks.append("g").attr("class","soft");
  p.bands.forEach(([b,rows])=>{
    soft.append("path").datum(rows).attr("d",area).attr("fill",bandColor[b]).attr("opacity",.72);
  });
  p.layers.forEach(l=>{
    const c=bandColor[l.b];
    (l.dense||[]).forEach((vals,i)=>{
      const grid=grids[i%4];
      marks.append("path").datum(vals.map((v,k)=>[grid[k],v])).attr("d",line)
        .attr("fill","none").attr("stroke",c).attr("stroke-width",.8).attr("opacity",.9);
    });
    (l.spikes||[]).forEach(row=>{
      const pts=row.slice(1).map((v,k)=>[row[0]+k*spikeStep,v]);
      marks.append("path").datum(pts).attr("d",line)
        .attr("fill","none").attr("stroke",c).attr("stroke-width",.6).attr("opacity",.85);
    });
    (l.long||[]).forEach(flat=>{
      const pts=d3.range(0,flat.length,2).map(k=>[flat[k],flat[k+1]]);
      marks.append("path").datum(pts).attr("d",line)
        .attr("fill","none").attr("stroke",c).attr("stroke-width",.7).attr("opacity",.7);
    });
  });
  // box
  g.append("rect").attr("x",p.boxL).attr("y",plotTop).attr("width",boxW).attr("height",plotBottom-plotTop)
    .attr("fill","none").attr("stroke",INK).attr("stroke-width",1.2);
  // x axis
  const ax=g.append("g").attr("transform",`translate(0,${plotBottom})`)
    .call(d3.axisBottom(x).tickValues(xTicks).tickSizeOuter(0).tickSize(6).tickPadding(11)
      .tickFormat(v=>xLabels.includes(v)?String(v):""));
  // y axis
  const ay=g.append("g").attr("transform",`translate(${p.boxL},0)`)
    .call(d3.axisLeft(yScale).tickValues(yTicks).tickSizeOuter(0).tickSize(6).tickPadding(0).tickFormat(String));
  ay.selectAll("text").attr("text-anchor","middle").attr("dy",0).attr("x",0).attr("y",0)
    .attr("transform","translate(-16,0) rotate(-90)");
  [ax,ay].forEach(a=>{
    a.selectAll("path,line").attr("stroke",INK);
    a.selectAll("text").attr("fill",INK).style("font-family",FONT).style("font-size","11px");
  });
  // title
  g.append("text").attr("x",p.boxL+boxW/2).attr("y",120).attr("text-anchor","middle")
    .attr("fill","#222").style("font-family",FONT).style("font-size","17.5px").text(panelTitles[pi]);
});

// shared labels
root.append("text").attr("transform","translate(140,246) rotate(-90)").attr("text-anchor","middle")
  .attr("fill",INK).style("font-family",FONT).style("font-size","13.5px").text("temperature (°C)");
root.append("text").attr("x",735).attr("y",397).attr("text-anchor","middle")
  .attr("fill",INK).style("font-family",FONT).style("font-size","13.5px").text("years BP");

// colour legend
const lx=d3.scaleLinear().domain([20,80]).range([468,1011]);
const lg=root.append("g");
lg.selectAll("rect").data(legendColors).join("rect")
  .attr("x",(d,i)=>lx(legendBreaks[i])).attr("width",(d,i)=>lx(legendBreaks[i+1])-lx(legendBreaks[i]))
  .attr("y",418).attr("height",12).attr("fill",d=>d);
lg.append("rect").attr("x",468).attr("y",418).attr("width",543).attr("height",12).attr("fill","none").attr("stroke",INK).attr("stroke-width",1);
const la=lg.append("g").attr("transform","translate(0,430)")
  .call(d3.axisBottom(lx).tickValues(legendBreaks).tickSizeOuter(0).tickSize(6).tickPadding(6).tickFormat(d=>d+"°N"));
la.selectAll("path,line").attr("stroke",INK);
la.selectAll("text").attr("fill",INK).style("font-family",FONT).style("font-size","11.5px");

// page numbers of the source document
const pageNumbers=[["420",32,34],["421",32,466]];
svg.selectAll("text.page").data(pageNumbers).join("text").attr("class","page")
  .attr("x",d=>d[1]).attr("y",d=>d[2]).attr("text-anchor","middle")
  .attr("fill","#111").style("font-family","'Open Sans',sans-serif").style("font-size","25px").text(d=>d[0]);
</script>
</body></html>
